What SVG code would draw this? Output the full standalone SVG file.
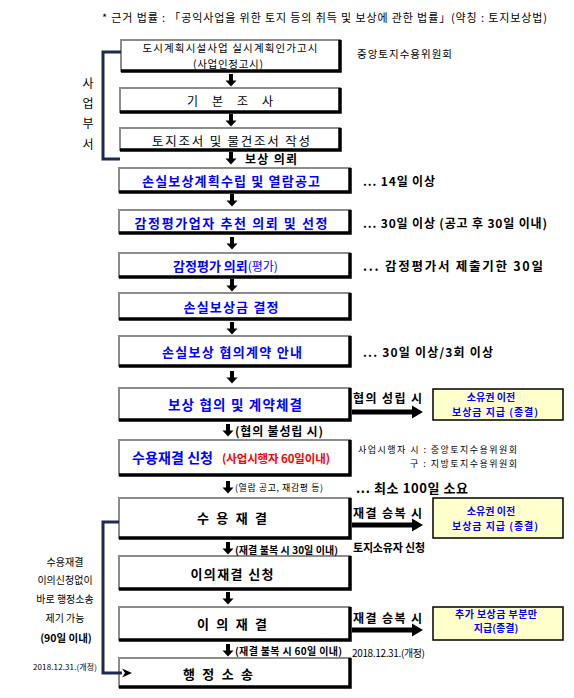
<svg xmlns="http://www.w3.org/2000/svg" width="574" height="698" viewBox="0 0 574 698">
<style>
text{font-family:"Noto Sans CJK KR","Noto Sans",sans-serif;dominant-baseline:central;fill:#000}
.c{text-anchor:middle}
.b{font-weight:bold}
.blue{fill:#0000ff}
.red{fill:#ff0000}
.bx{fill:#fff;stroke:#8c8c8c;stroke-width:2}
.sh{fill:none;stroke:#000;stroke-width:3.5}
.rs{fill:#ffffcc;stroke:#000;stroke-width:1.5}
.nv{fill:none;stroke:#1f2a4f;stroke-width:3}
.rt{font-size:10px;font-weight:bold;fill:#0000ff;text-anchor:middle}
</style>
<defs>
<path id="da" d="M-2,-6 H2 V0.5 H5.5 L0,6.5 L-5.5,0.5 H-2 Z" fill="#000"/>
</defs>

<text id="note" x="102" y="17" font-size="11" textLength="445" lengthAdjust="spacing">* 근거 법률 : 「공익사업을 위한 토지 등의 취득 및 보상에 관한 법률」(약칭 : 토지보상법)</text>

<g id="n1">
<rect class="bx" x="121" y="40" width="219" height="31"/><path class="sh" d="M340,40 V71 H121"/>
<text class="c" x="230" y="47.5" font-size="10.5" textLength="175" lengthAdjust="spacing">도시계획시설사업 실시계획인가고시</text>
<text class="c" x="228" y="63" font-size="10.5" textLength="70" lengthAdjust="spacing">(사업인정고시)</text>
</g>
<text id="committee" x="357" y="53" font-size="10.5" textLength="95" lengthAdjust="spacing">중앙토지수용위원회</text>

<g id="n2">
<rect class="bx" x="120" y="88" width="220" height="24"/><path class="sh" d="M340,88 V112 H120"/>
<text class="c" x="230" y="100" font-size="12" textLength="86" lengthAdjust="spacing">기 본 조 사</text>
</g>
<g id="n3">
<rect class="bx" x="120" y="128" width="220" height="22"/><path class="sh" d="M340,128 V150 H120"/>
<text class="c" x="231" y="140" font-size="12.5" textLength="158" lengthAdjust="spacing">토지조서 및 물건조서 작성</text>
</g>
<g id="dept">
<text class="c" x="88" y="82" font-size="12">사</text>
<text class="c" x="88" y="102" font-size="12">업</text>
<text class="c" x="88" y="122" font-size="12">부</text>
<text class="c" x="88" y="143" font-size="12">서</text>
</g>

<g id="n4">
<rect class="bx" x="119" y="168" width="231" height="24"/><path class="sh" d="M350,168 V192 H119"/>
<text class="c b blue" x="231" y="180" font-size="13" textLength="178" lengthAdjust="spacing">손실보상계획수립 및 열람공고</text>
</g>
<text class="b" x="363" y="180" font-size="12" textLength="72" lengthAdjust="spacing">... 14일 이상</text>

<g id="n5">
<rect class="bx" x="119" y="210" width="231" height="23"/><path class="sh" d="M350,210 V233 H119"/>
<text class="c b blue" x="231" y="222" font-size="13" textLength="193" lengthAdjust="spacing">감정평가업자 추천 의뢰 및 선정</text>
</g>
<text class="b" x="363" y="222" font-size="12" textLength="184" lengthAdjust="spacing">... 30일 이상 (공고 후 30일 이내)</text>

<g id="n6">
<rect class="bx" x="119" y="253" width="231" height="24"/><path class="sh" d="M350,253 V277 H119"/>
<text class="blue" x="173" y="265" font-size="13"><tspan class="b">감정평가 의뢰</tspan><tspan font-size="12">(평가)</tspan></text>
</g>
<text class="b" x="363" y="265" font-size="12.5" textLength="180" lengthAdjust="spacing">... 감정평가서 제출기한 30일</text>

<g id="n7">
<rect class="bx" x="119" y="293" width="231" height="26"/><path class="sh" d="M350,293 V319 H119"/>
<text class="c b blue" x="231" y="306" font-size="13" textLength="95" lengthAdjust="spacing">손실보상금 결정</text>
</g>

<g id="n8">
<rect class="bx" x="119" y="336" width="231" height="30"/><path class="sh" d="M350,336 V366 H119"/>
<text class="c b blue" x="232" y="351" font-size="13" textLength="140" lengthAdjust="spacing">손실보상 협의계약 안내</text>
</g>
<text class="b" x="363" y="351" font-size="12" textLength="130" lengthAdjust="spacing">... 30일 이상/3회 이상</text>

<g id="n9">
<rect class="bx" x="119" y="388" width="231" height="32"/><path class="sh" d="M350,388 V420 H119"/>
<text class="c b blue" x="235" y="404" font-size="13.5" textLength="134" lengthAdjust="spacing">보상 협의 및 계약체결</text>
</g>
<g id="r1">
<rect class="rs" x="433" y="389" width="130" height="31"/>
<text class="rt" x="491" y="396">소유권 이전</text>
<text class="rt" x="495" y="411" textLength="86" lengthAdjust="spacing">보상금 지급 (종결)</text>
</g>
<text class="b" x="353" y="397" font-size="12" textLength="69" lengthAdjust="spacing">협의 성립 시</text>

<g id="n10">
<rect class="bx" x="119" y="440" width="231" height="35"/><path class="sh" d="M350,440 V475 H119"/>
<text class="b blue" x="132" y="457" font-size="14" textLength="81" lengthAdjust="spacing">수용재결 신청</text>
<text class="b red" x="222" y="458" font-size="11.5" textLength="108" lengthAdjust="spacing">(사업시행자 60일이내)</text>
</g>
<text x="358" y="449" font-size="9" fill="#333" textLength="159" lengthAdjust="spacing">사업시행자 시 : 중앙토지수용위원회</text>
<text x="410" y="463" font-size="9" fill="#333" textLength="107" lengthAdjust="spacing">구 : 지방토지수용위원회</text>
<text class="b" x="356" y="487" font-size="13" textLength="112" lengthAdjust="spacing">... 최소 100일 소요</text>

<g id="n11">
<rect class="bx" x="119" y="498" width="231" height="40"/><path class="sh" d="M350,498 V538 H119"/>
<text class="c b" x="232" y="517" font-size="13" textLength="70" lengthAdjust="spacing">수 용 재 결</text>
</g>
<text class="b" x="353" y="512" font-size="12" textLength="69" lengthAdjust="spacing">재결 승복 시</text>
<g id="r2">
<rect class="rs" x="433" y="498" width="130" height="40"/>
<text class="rt" x="491" y="510">소유권 이전</text>
<text class="rt" x="495" y="525" textLength="86" lengthAdjust="spacing">보상금 지급 (종결)</text>
</g>
<text class="b" x="353" y="547" font-size="11" textLength="72" lengthAdjust="spacing">토지소유자 신청</text>

<g id="n12">
<rect class="bx" x="119" y="556" width="231" height="33"/><path class="sh" d="M350,556 V589 H119"/>
<text class="c b" x="232" y="573" font-size="13" textLength="83" lengthAdjust="spacing">이의재결 신청</text>
</g>

<g id="n13">
<rect class="bx" x="119" y="607" width="231" height="33"/><path class="sh" d="M350,607 V640 H119"/>
<text class="c b" x="232" y="623" font-size="13" textLength="70" lengthAdjust="spacing">이 의 재 결</text>
</g>
<text class="b" x="353" y="617" font-size="12" textLength="69" lengthAdjust="spacing">재결 승복 시</text>
<g id="r3">
<rect class="rs" x="433" y="607" width="130" height="33"/>
<text class="rt" x="496" y="613" textLength="82" lengthAdjust="spacing">추가 보상금 부분만</text>
<text class="rt" x="496" y="627">지급(종결)</text>
</g>
<text x="352" y="652" font-size="10" textLength="73" lengthAdjust="spacing">2018.12.31.(개정)</text>

<g id="n14">
<rect class="bx" x="119" y="658" width="231" height="29"/><path class="sh" d="M350,658 V687 H119"/>
<text class="c b" x="218" y="673" font-size="13" textLength="70" lengthAdjust="spacing">행 정 소 송</text>
</g>

<g id="side">
<text class="c" x="65" y="561" font-size="10">수용재결</text>
<text class="c" x="65" y="579" font-size="10">이의신청없이</text>
<text class="c" x="65" y="598" font-size="10">바로 행정소송</text>
<text class="c" x="65" y="617" font-size="10">제기 가능</text>
<text class="c b" x="66" y="637" font-size="10.5">(90일 이내)</text>
<text x="33" y="666" font-size="8" textLength="64" lengthAdjust="spacing">2018.12.31.(개정)</text>
</g>

<g id="connectors">
<path class="nv" d="M121,52 H103 V159 H120"/>
<path class="nv" d="M119,522 H103 V673 H122"/>
<path d="M122,668.5 L132,673 L122,677.5 L125,673 Z" fill="#000"/>
<use href="#da" x="231" y="80"/>
<use href="#da" x="231" y="120"/>
<use href="#da" x="231" y="158"/>
<use href="#da" x="232" y="200"/>
<use href="#da" x="232" y="243"/>
<use href="#da" x="232" y="285"/>
<use href="#da" x="232" y="328"/>
<use href="#da" x="232" y="377"/>
<use href="#da" x="228" y="430"/>
<use href="#da" x="228" y="487"/>
<use href="#da" x="228" y="548"/>
<use href="#da" x="228" y="598"/>
<use href="#da" x="228" y="650"/>
<path d="M352,409.5 H412 V405.5 L423,412 L412,418.5 V414.5 H352 Z" fill="#000"/>
<path d="M352,522.5 H412 V518.5 L423,525 L412,531.5 V527.5 H352 Z" fill="#000"/>
<path d="M352,627.5 H412 V623.5 L423,630 L412,636.5 V632.5 H352 Z" fill="#000"/>
</g>
<g id="arrowlabels">
<text class="b" x="245" y="158" font-size="12" textLength="52" lengthAdjust="spacing">보상 의뢰</text>
<text class="b" x="235" y="430" font-size="12" textLength="88" lengthAdjust="spacing">(협의 불성립 시)</text>
<text x="235" y="487" font-size="9" textLength="88" lengthAdjust="spacing">(열람 공고, 재감평 등)</text>
<text class="b" x="235" y="549" font-size="10" textLength="103" lengthAdjust="spacing">(재결 불복 시 30일 이내)</text>
<text class="b" x="235" y="650" font-size="10" textLength="107" lengthAdjust="spacing">(재결 불복 시 60일 이내)</text>
</g>
</svg>
